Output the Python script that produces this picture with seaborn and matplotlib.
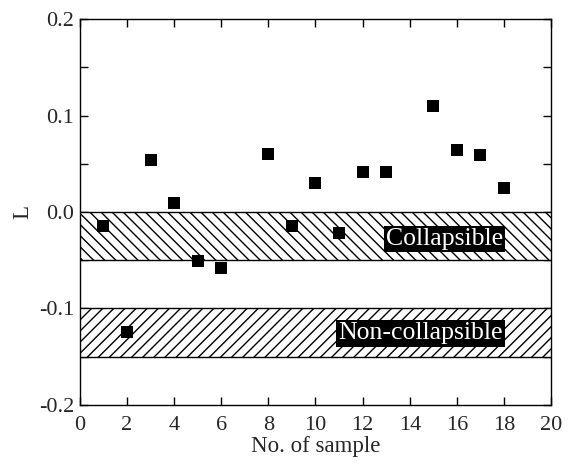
import matplotlib
matplotlib.use("Agg")
import matplotlib.pyplot as plt
import seaborn as sns
import pandas as pd
from matplotlib.ticker import MultipleLocator

sample_no = [1, 2, 3, 4, 5, 6, 8, 9, 10, 11, 12, 13, 15, 16, 17, 18]
L_values = [-0.014, -0.124, 0.054, 0.009, -0.051, -0.058, 0.060, -0.015,
            0.030, -0.022, 0.042, 0.042, 0.110, 0.064, 0.059, 0.025]
band_names = ["Collapsible", "Non-collapsible"]
band_low = [-0.05, -0.15]
band_high = [0.0, -0.10]
band_hatch = ["\\\\\\", "///"]
label_y = [-0.028, -0.126]
ytick_vals = [-0.2, -0.1, 0.0, 0.1, 0.2]
ytick_labels = ["-0.2", "-0.1", "0.0", "0.1", "0.2"]

sns.set_theme(style="ticks")
plt.rcParams["font.family"] = ["Liberation Serif", "DejaVu Serif"]
plt.rcParams["hatch.linewidth"] = 1.0

fig = plt.figure(figsize=(5.7, 4.68), dpi=100)
ax = fig.add_axes([0.140, 0.135, 0.827, 0.824])

for name, lo, hi, h, ly in zip(band_names, band_low, band_high, band_hatch, label_y):
    ax.fill_between([0, 20], [lo, lo], [hi, hi], facecolor="white",
                    edgecolor="black", hatch=h, linewidth=0.0, zorder=1)
    ax.axhline(lo, color="black", lw=1.0, zorder=2)
    ax.axhline(hi, color="black", lw=1.0, zorder=2)
    ax.text(17.95, ly, name, color="white", fontsize=18.5,
            ha="right", va="center", zorder=4,
            bbox=dict(facecolor="black", edgecolor="none", pad=1.5))

df = pd.DataFrame({"x": sample_no, "L": L_values})
sns.scatterplot(data=df, x="x", y="L", marker="s", s=75, color="black",
                edgecolor="black", linewidth=0, ax=ax, zorder=3)

ax.set_xlim(0, 20)
ax.set_ylim(-0.2, 0.2)
ax.xaxis.set_major_locator(MultipleLocator(2))
ax.set_yticks(ytick_vals)
ax.set_yticklabels(ytick_labels)
ax.yaxis.set_minor_locator(MultipleLocator(0.05))
ax.tick_params(which="both", direction="in", top=True, right=True,
               labelsize=16, width=1.0, color="black")
ax.tick_params(axis="x", pad=8)
ax.tick_params(axis="y", pad=4)
ax.tick_params(which="major", length=6)
ax.tick_params(which="minor", length=6)
for s in ax.spines.values():
    s.set_linewidth(1.0)
    s.set_color("black")
ax.set_xlabel("No. of sample", fontsize=16.5, labelpad=1)
ax.set_ylabel("L", fontsize=16.5, labelpad=4)

fig.savefig("out.png", dpi=100)
